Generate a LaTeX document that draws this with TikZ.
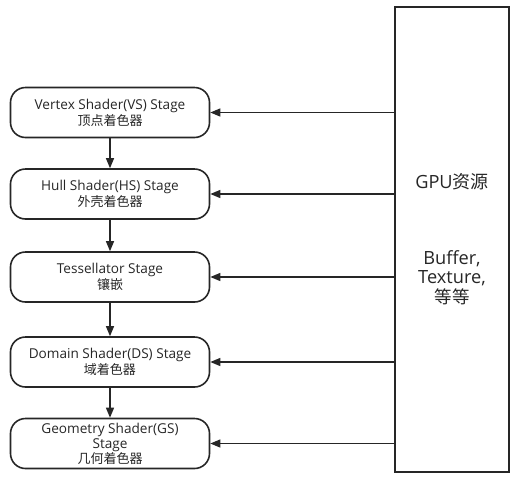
\documentclass[tikz,border=0pt]{standalone}
\usepackage{fontspec}
\setmainfont{Open Sans}
\newfontfamily\cjk{Noto Sans CJK SC}
\usetikzlibrary{arrows.meta}
\begin{document}
\begin{tikzpicture}[x=1pt,y=-1pt,
  stagebox/.style={draw=black!85,line width=1.6pt,rounded corners=15pt,minimum width=199pt,minimum height=50pt,inner sep=0pt,align=center,font=\fontsize{13.6}{16}\selectfont,text=black!85},
  gpubox/.style={draw=black!85,line width=1.6pt,minimum width=114pt,minimum height=465pt,inner sep=0pt,align=center,text=black!85},
  gputext/.style={font=\fontsize{18.2}{19.5}\selectfont,text=black!85,align=center},
  conn/.style={draw=black!85,line width=1.3pt,-{Triangle[length=10pt,width=8pt]}}]
\useasboundingbox (0,0) rectangle (525,480);
\node[gpubox] (gpu) at (452,239.5) {};
\node[gputext] (gputitle) at (452,182) {GPU{\cjk\fontsize{18}{19.5}\selectfont 资源}};
\node[gputext] (gpures) at (452,277.5) {Buffer,\\Texture,\\{\cjk\fontsize{17.5}{19.5}\selectfont 等等}};
\node[stagebox] (vs) at (110,112.5) {Vertex Shader(VS) Stage\\{\cjk\fontsize{13}{16}\selectfont 顶点着色器}};
\node[stagebox] (hs) at (110,194) {Hull Shader(HS) Stage\\{\cjk\fontsize{13}{16}\selectfont 外壳着色器}};
\node[stagebox] (ts) at (110,277) {Tessellator Stage\\{\cjk\fontsize{13}{16}\selectfont 镶嵌}};
\node[stagebox] (ds) at (110,362) {Domain Shader(DS) Stage\\{\cjk\fontsize{13}{16}\selectfont 域着色器}};
\node[stagebox,font=\fontsize{13.6}{15}\selectfont] (gs) at (110,443.5) {Geometry Shader(GS)\\Stage\\{\cjk\fontsize{13}{15}\selectfont 几何着色器}};
\draw[conn] (vs) -- (hs);
\draw[conn] (hs) -- (ts);
\draw[conn] (ts) -- (ds);
\draw[conn] (ds) -- (gs);
\foreach \n in {vs,hs,ts,ds,gs}{
  \draw[conn] (gpu.west |- \n.east) -- (\n.east);
}
\end{tikzpicture}
\end{document}
